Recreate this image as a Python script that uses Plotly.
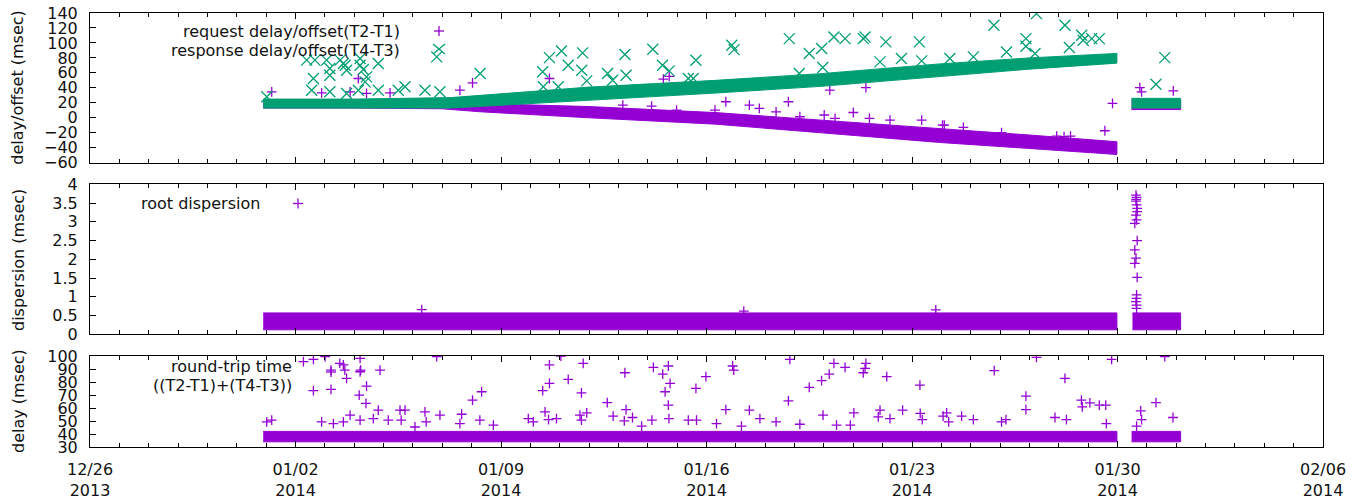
import pandas as pd
import plotly.graph_objects as go
from plotly.subplots import make_subplots

# ---------------- data (x values = days since BASE_DATE) ----------------
BASE_DATE = "2013-12-26"
X_RANGE_DAYS = [0, 42]
X_TICK_STEP_DAYS = 7

# dense bands (visual extent of the dense point clouds), segment 1 and segment 2
REQ_BAND_DAYS = [5.90, 9.0, 12.0, 13.3, 17.0, 21.3, 24.9, 28.95, 32.0, 34.98]
REQ_BAND_LOW = [13, 13, 12, 8, 0, -8.5, -20, -33, -41, -49]
REQ_BAND_HIGH = [24, 24, 23, 19, 15, 7, -3, -14, -23, -32]
REQ_BAND2_DAYS = [35.48, 37.15]
REQ_BAND2_LOW = [11, 11]
REQ_BAND2_HIGH = [24, 24]

RESP_BAND_DAYS = [5.90, 9.0, 12.3, 17.0, 21.3, 24.9, 28.95, 32.0, 34.98]
RESP_BAND_LOW = [13, 13, 13, 23, 33, 42, 55, 65, 73]
RESP_BAND_HIGH = [25, 25, 27, 41, 50, 59, 72, 80, 86]
RESP_BAND2_DAYS = [35.48, 37.15]
RESP_BAND2_LOW = [13, 13]
RESP_BAND2_HIGH = [26, 26]

# scattered points off the bands
REQ_OUT_DAYS = [6.19, 7.89, 8.86, 9.14, 9.42, 10.22, 12.60, 13.03, 15.65, 18.15,
                19.13, 19.53, 19.73, 19.98, 21.29, 21.66, 22.46, 22.80, 23.37, 23.79,
                24.18, 25.01, 25.20, 25.38, 26.00, 26.43, 26.55, 27.25, 28.33, 29.04,
                29.10, 29.75, 31.05, 32.93, 33.18, 33.40, 34.57, 34.83, 35.76, 35.82,
                36.90]
REQ_OUT_VALS = [34.7, 33.4, 34.7, 52.5, 32.5, 33.4, 36.9, 46.7, 52.5, 17.0,
                15.6, 51.6, 55.3, 10.3, 10.3, 21.4, 17.0, 12.5, 8.0, 21.4,
                1.4, 3.7, 36.9, -0.8, 7.1, 40.4, -0.8, -3.0, -3.0, -9.7,
                -9.7, -12.8, -19.9, -24.4, -25.3, -24.5, -17.3, 19.2, 40.4, 34.6,
                35.9]

RESP_OUT_DAYS = [6.02, 7.38, 7.55, 7.61, 7.66, 8.06, 8.17, 8.17, 8.17, 8.52,
                 8.63, 8.69, 8.74, 8.74, 9.14, 9.20, 9.20, 9.31, 9.37, 9.42,
                 9.82, 9.82, 10.50, 10.73, 11.41, 11.81, 11.92, 13.29, 15.42, 15.44,
                 15.65, 15.95, 16.06, 16.29, 16.75, 16.78, 16.92, 17.63, 17.80, 18.22,
                 18.26, 19.17, 19.50, 19.73, 20.38, 20.55, 20.64, 21.86, 21.94, 23.82,
                 24.16, 24.50, 24.92, 24.96, 25.34, 25.72, 26.34, 26.40, 26.91, 27.11,
                 27.64, 28.25, 28.33, 29.29, 30.09, 30.79, 31.22, 31.88, 31.88, 32.19,
                 32.24, 33.21, 33.36, 33.78, 33.83, 34.12, 34.38, 36.31, 36.61]
RESP_OUT_VALS = [28.0, 77.0, 36.9, 52.5, 77.0, 77.0, 56.9, 65.8, 34.7, 77.0,
                 72.5, 70.3, 63.6, 32.5, 36.9, 79.1, 70.3, 64.5, 48.0, 54.7,
                 72.5, 36.9, 36.9, 41.4, 36.9, 81.4, 34.7, 59.1, 61.4, 41.4,
                 80.4, 41.4, 89.3, 70.3, 63.6, 86.7, 49.3, 59.1, 50.2, 84.5,
                 56.9, 91.6, 70.3, 62.7, 52.5, 52.5, 76.9, 96.9, 91.1, 105.8,
                 59.1, 85.8, 92.5, 67.2, 108.0, 105.8, 105.8, 108.0, 74.7, 101.4,
                 79.1, 101.4, 76.0, 79.1, 81.4, 123.6, 88.0, 105.8, 95.6, 85.8,
                 139.2, 123.6, 93.8, 110.3, 103.6, 105.8, 105.8, 44.8, 80.4]

# root dispersion
DISP_BAND_DAYS = [5.90, 34.98]
DISP_BAND_LOW = [0.12, 0.12]
DISP_BAND_HIGH = [0.57, 0.57]
DISP_BAND2_DAYS = [35.51, 37.15]
DISP_BAND2_LOW = [0.12, 0.12]
DISP_BAND2_HIGH = [0.57, 0.57]
DISP_OUT_DAYS = [11.30, 22.27, 28.81,
                 35.63, 35.65, 35.64, 35.63, 35.65, 35.67, 35.67, 35.63, 35.65, 35.59,
                 35.67, 35.59, 35.63, 35.59, 35.67, 35.65, 35.65, 35.63, 35.65, 35.65]
DISP_OUT_VALS = [0.66, 0.62, 0.65,
                 3.71, 3.65, 3.60, 3.55, 3.45, 3.36, 3.27, 3.18, 3.05, 2.96,
                 2.50, 2.25, 2.03, 1.89, 1.52, 1.05, 0.96, 0.87, 0.78, 0.69]

# round-trip time
RTT_BAND_DAYS = [5.90, 34.98]
RTT_BAND_LOW = [34, 34]
RTT_BAND_HIGH = [42, 42]
RTT_BAND2_DAYS = [35.48, 37.15]
RTT_BAND2_LOW = [34, 34]
RTT_BAND2_HIGH = [42, 42]
RTT_OUT_DAYS = [6.02, 6.19, 7.27, 7.61, 8.01, 7.61, 8.21, 8.21, 8.51, 8.63,
                8.68, 8.74, 9.20, 9.20, 9.22, 9.17, 9.42, 9.40, 9.88, 7.89,
                8.29, 8.63, 8.86, 9.20, 9.65, 9.82, 10.16, 10.56, 10.73, 10.60,
                11.07, 11.41, 11.45, 11.81, 11.92,
                12.60, 12.66, 13.03, 13.34, 13.28, 13.74, 14.93, 15.10, 15.42, 15.50,
                15.65, 15.65, 15.62, 15.89, 16.04, 16.29, 16.69, 16.74, 16.80, 16.92,
                16.74, 17.62, 17.82, 18.22, 18.26, 18.48, 18.20, 18.79, 19.19, 19.14,
                19.51, 19.59, 19.70, 19.76, 19.70, 19.72, 20.38, 20.66, 20.64, 20.98,
                21.34, 21.66, 21.89, 21.93, 22.19, 22.46, 22.82, 23.37, 23.79, 23.84,
                24.18, 24.50, 24.92, 24.97, 25.18, 25.34, 25.72, 25.43, 26.02, 25.90,
                26.34, 26.43, 26.40, 26.91, 26.85, 27.14, 27.25,
                27.68, 28.27, 28.28, 28.35, 29.06, 29.18, 29.25, 29.69, 30.09, 30.80,
                31.05, 31.20, 31.88, 31.88, 32.24, 32.87, 33.21, 33.26, 33.77, 33.80,
                34.06, 34.38, 34.60, 34.62, 34.80, 35.65, 35.79, 35.82, 36.31, 36.61,
                36.89]
RTT_OUT_VALS = [49.3, 50.6, 95.6, 97.4, 99.5, 73.3, 74.3, 89.2, 94.3, 93.1,
                89.2, 82.8, 98.2, 87.9, 89.2, 69.9, 76.9, 63.5, 89.2, 49.3,
                48.0, 49.3, 54.5, 50.6, 51.9, 58.3, 50.6, 58.3, 58.3, 50.6,
                45.4, 57.0, 49.3, 99.5, 54.5,
                48.0, 55.2, 66.0, 72.5, 50.6, 46.8, 51.9, 49.3, 73.3, 57.0,
                78.9, 93.1, 51.1, 51.9, 100.0, 82.0, 54.5, 71.7, 94.3, 56.3,
                50.6, 64.2, 53.7, 87.1, 58.8, 52.7, 50.1, 46.0, 91.3, 50.6,
                86.1, 72.5, 92.3, 78.9, 62.2, 51.9, 50.6, 50.6, 75.1, 84.1,
                48.0, 58.8, 92.3, 89.2, 46.0, 58.3, 51.9, 49.3, 65.5, 97.4,
                47.5, 75.8, 81.0, 54.5, 86.1, 94.3, 91.3, 46.8, 56.3, 46.8,
                87.1, 94.3, 90.5, 58.3, 53.2, 84.1, 51.9,
                58.3, 77.6, 55.8, 51.1, 53.7, 56.3, 49.3, 53.7, 51.1, 88.7,
                49.3, 51.1, 69.1, 58.8, 99.0, 52.7, 82.8, 51.1, 66.0, 60.9,
                64.0, 62.2, 62.2, 48.0, 97.4, 46.0, 57.8, 51.1, 64.2, 99.5,
                52.7]

# axes
Y1_RANGE, Y1_DTICK = [-60, 140], 20
Y2_RANGE, Y2_DTICK = [0, 4], 0.5
Y3_RANGE, Y3_DTICK = [30, 100], 10

PURPLE = "#9400D3"
GREEN = "#009E73"
FONT = "DejaVu Sans"
FS = 16
TXT = "#111111"

# ---------------- helpers ----------------
BASE = pd.Timestamp(BASE_DATE)


def to_dt(days):
    return [BASE + pd.Timedelta(days=float(d)) for d in days]


def band_xy(days, low, high):
    x = to_dt(days) + to_dt(list(days)[::-1])
    y = list(high) + list(low)[::-1]
    return x, y


W, H = 1363, 497
ML, MR, MT, MB = 90, 40, 13, 50
PW, PH = W - ML - MR, H - MT - MB


def px(x):
    return (x - ML) / PW


def py(y):
    return (H - MB - y) / PH


fig = make_subplots(rows=3, cols=1, shared_xaxes=True)


def add_band(row, days, low, high, color):
    x, y = band_xy(days, low, high)
    fig.add_trace(go.Scatter(x=x, y=y, mode="lines", fill="toself", fillcolor=color,
                             line=dict(color=color, width=1), hoverinfo="skip",
                             showlegend=False), row=row, col=1)


def add_points(row, days, vals, color, symbol, size):
    fig.add_trace(go.Scatter(x=to_dt(days), y=vals, mode="markers",
                             marker=dict(symbol=symbol, size=size, color=color,
                                         line=dict(color=color, width=1.3)),
                             showlegend=False), row=row, col=1)


# top panel: request (purple) then response (green)
add_band(1, REQ_BAND_DAYS, REQ_BAND_LOW, REQ_BAND_HIGH, PURPLE)
add_band(1, REQ_BAND2_DAYS, REQ_BAND2_LOW, REQ_BAND2_HIGH, PURPLE)
add_points(1, REQ_OUT_DAYS, REQ_OUT_VALS, PURPLE, "cross-thin", 7)
add_band(1, RESP_BAND_DAYS, RESP_BAND_LOW, RESP_BAND_HIGH, GREEN)
add_band(1, RESP_BAND2_DAYS, RESP_BAND2_LOW, RESP_BAND2_HIGH, GREEN)
add_points(1, RESP_OUT_DAYS, RESP_OUT_VALS, GREEN, "x-thin", 11)

# middle panel
add_band(2, DISP_BAND_DAYS, DISP_BAND_LOW, DISP_BAND_HIGH, PURPLE)
add_band(2, DISP_BAND2_DAYS, DISP_BAND2_LOW, DISP_BAND2_HIGH, PURPLE)
add_points(2, DISP_OUT_DAYS, DISP_OUT_VALS, PURPLE, "cross-thin", 7)

# bottom panel
add_band(3, RTT_BAND_DAYS, RTT_BAND_LOW, RTT_BAND_HIGH, PURPLE)
add_band(3, RTT_BAND2_DAYS, RTT_BAND2_LOW, RTT_BAND2_HIGH, PURPLE)
add_points(3, RTT_OUT_DAYS, RTT_OUT_VALS, PURPLE, "cross-thin", 7)

xr = [BASE + pd.Timedelta(days=X_RANGE_DAYS[0]), BASE + pd.Timedelta(days=X_RANGE_DAYS[1])]
xcommon = dict(type="date", range=xr, tick0=BASE, dtick=X_TICK_STEP_DAYS * 86400000,
               ticks="inside", ticklen=6, tickwidth=1, tickcolor="black",
               showline=True, linecolor="black", linewidth=1, mirror="ticks",
               showgrid=False, zeroline=False, automargin=False,
               minor=dict(dtick=86400000, ticks="inside", ticklen=4, tickwidth=1,
                          tickcolor="black", showgrid=False),
               ticklabelstandoff=8,
               tickfont=dict(family=FONT, size=FS, color=TXT))
ycommon = dict(ticks="inside", ticklen=6, tickwidth=1, tickcolor="black",
               showline=True, linecolor="black", linewidth=1, mirror=True,
               showgrid=False, zeroline=False, ticklabelstandoff=8, automargin=False,
               tickfont=dict(family=FONT, size=FS, color=TXT))

fig.update_xaxes(**xcommon)
fig.update_xaxes(showticklabels=False, row=1, col=1)
fig.update_xaxes(showticklabels=False, row=2, col=1)
fig.update_xaxes(showticklabels=True, tickformat="%m/%d<br>%Y", row=3, col=1)

fig.update_yaxes(**ycommon)
fig.update_yaxes(range=Y1_RANGE, dtick=Y1_DTICK, tick0=0, domain=[py(162.7), 1.0], row=1, col=1)
fig.update_yaxes(range=Y2_RANGE, dtick=Y2_DTICK, tick0=0, domain=[py(334.3), py(184.3)], row=2, col=1)
fig.update_yaxes(range=Y3_RANGE, dtick=Y3_DTICK, tick0=30, domain=[0.0, py(356)], row=3, col=1)

tfont = dict(family=FONT, size=FS, color=TXT)
annotations = [
    dict(text="delay/offset (msec)", x=px(18), y=py(87.7), textangle=-90),
    dict(text="dispersion (msec)", x=px(18), y=py(260), textangle=-90),
    dict(text="delay (msec)", x=px(18), y=py(401), textangle=-90),
]
annotations = [dict(a, xref="paper", yref="paper", xanchor="center", yanchor="middle",
                    showarrow=False, font=tfont) for a in annotations]
legend_texts = [
    ("request delay/offset(T2-T1)", 402, 31),
    ("response delay/offset(T4-T3)", 402, 51),
    ("root dispersion", 262, 203.5),
    ("round-trip time", 293.5, 366.7),
    ("((T2-T1)+(T4-T3))", 293.5, 385),
]
for t, x, y in legend_texts:
    annotations.append(dict(text=t, x=px(x), y=py(y), xref="paper", yref="paper",
                            xanchor="right", yanchor="middle", showarrow=False, font=tfont))

shapes = []


def plus(cx, cy, r, color):
    shapes.append(dict(type="line", xref="paper", yref="paper", x0=px(cx - r), x1=px(cx + r),
                       y0=py(cy), y1=py(cy), line=dict(color=color, width=1.3)))
    shapes.append(dict(type="line", xref="paper", yref="paper", x0=px(cx), x1=px(cx),
                       y0=py(cy - r), y1=py(cy + r), line=dict(color=color, width=1.3)))


def cross(cx, cy, rx, ry, color):
    shapes.append(dict(type="line", xref="paper", yref="paper", x0=px(cx - rx), x1=px(cx + rx),
                       y0=py(cy - ry), y1=py(cy + ry), line=dict(color=color, width=1.3)))
    shapes.append(dict(type="line", xref="paper", yref="paper", x0=px(cx - rx), x1=px(cx + rx),
                       y0=py(cy + ry), y1=py(cy - ry), line=dict(color=color, width=1.3)))


plus(439, 31, 5, PURPLE)
cross(439, 49, 6, 5, GREEN)
plus(298, 203.5, 5, PURPLE)
plus(331, 372, 5, PURPLE)

fig.update_layout(width=W, height=H, margin=dict(l=ML, r=MR, t=MT, b=MB, pad=0, autoexpand=False),
                  paper_bgcolor="white", plot_bgcolor="white",
                  font=dict(family=FONT, size=FS, color=TXT),
                  showlegend=False, annotations=annotations, shapes=shapes)

fig.write_html("out.html")
